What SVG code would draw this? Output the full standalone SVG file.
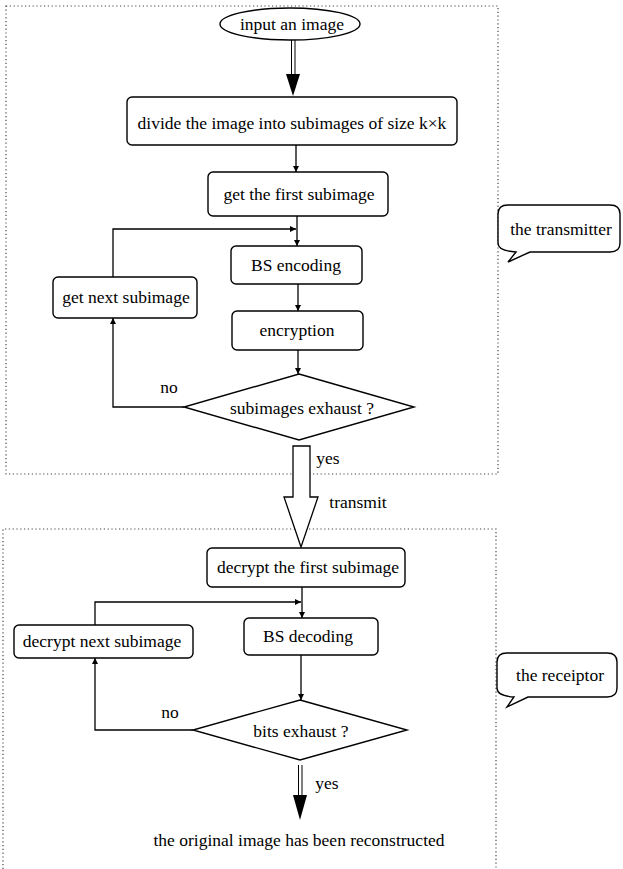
<svg xmlns="http://www.w3.org/2000/svg" width="623" height="869" viewBox="0 0 623 869">
<style>
.t{font-family:"Liberation Serif","Times New Roman",serif;font-size:17.5px;fill:#000;text-anchor:middle;dominant-baseline:central}
.b{fill:#fff;stroke:#000;stroke-width:1.4}
.c{fill:none;stroke:#000;stroke-width:1.3}
.d{fill:none;stroke:#444;stroke-width:1.2;stroke-dasharray:1.2 2.6}
</style>
<defs>
<marker id="ah" viewBox="0 0 10 10" refX="10" refY="5" markerWidth="6" markerHeight="6" markerUnits="userSpaceOnUse" orient="auto">
<path d="M0,0 L10,5 L0,10 Z" fill="#000"/>
</marker>
</defs>
<rect width="623" height="869" fill="#fff"/>
<g id="frames">
<rect class="d" x="6" y="6" width="492" height="468"/>
<path class="d" d="M3,869 L3,529 L496,529 L496,869"/>
</g>
<g id="connectors">
<line x1="291.5" y1="40" x2="291.5" y2="76" stroke="#000" stroke-width="1"/>
<line x1="295" y1="40" x2="295" y2="76" stroke="#000" stroke-width="1"/>
<path d="M286,74 L300,74 L293,96 Z" fill="#000"/>
<line class="c" x1="296" y1="145" x2="296" y2="172" stroke-width="1" marker-end="url(#ah)"/>
<line class="c" x1="297" y1="216" x2="297" y2="246" marker-end="url(#ah)"/>
<polyline class="c" points="113,277 113,229 296,229" marker-end="url(#ah)"/>
<line class="c" x1="298" y1="284" x2="298" y2="311" marker-end="url(#ah)"/>
<line class="c" x1="298" y1="350" x2="298" y2="374" marker-end="url(#ah)"/>
<polyline class="c" points="184,407 113,407 113,318" marker-end="url(#ah)"/>
<polygon points="293,446 310,446 310,497 318,497 301,547 284,497 293,497" fill="#fff" stroke="#000" stroke-width="1.3"/>
<line class="c" x1="302" y1="587" x2="302" y2="618" stroke-width="1" marker-end="url(#ah)"/>
<polyline class="c" points="95,625 95,602 301,602" stroke-width="1" marker-end="url(#ah)"/>
<line class="c" x1="301" y1="655" x2="301" y2="700" stroke-width="1" marker-end="url(#ah)"/>
<polyline class="c" points="193,730 95,730 95,658" marker-end="url(#ah)"/>
<line x1="298.5" y1="765" x2="298.5" y2="797" stroke="#000" stroke-width="1"/>
<line x1="302" y1="765" x2="302" y2="797" stroke="#000" stroke-width="1"/>
<path d="M293,795 L307,795 L300,820 Z" fill="#000"/>
<text class="t" x="169" y="387">no</text>
<text class="t" x="170" y="712">no</text>
<text class="t" x="328" y="458">yes</text>
<text class="t" x="358" y="502">transmit</text>
<text class="t" x="327" y="783">yes</text>
</g>
<g id="input">
<ellipse class="b" cx="290" cy="24" rx="70" ry="16"/>
<text class="t" x="292" y="24">input an image</text>
</g>
<g id="divide">
<rect class="b" x="127" y="97" width="330" height="48" rx="5"/>
<text class="t" x="292" y="123">divide the image into subimages of size k×k</text>
</g>
<g id="first">
<rect class="b" x="208" y="172" width="180" height="44" rx="5"/>
<text class="t" x="299" y="194">get the first subimage</text>
</g>
<g id="bsenc">
<rect class="b" x="231" y="246" width="131" height="38" rx="5"/>
<text class="t" x="296" y="265">BS encoding</text>
</g>
<g id="next">
<rect class="b" x="53" y="277" width="144" height="41" rx="5"/>
<text class="t" x="126" y="297">get next subimage</text>
</g>
<g id="enc">
<rect class="b" x="232" y="311" width="131" height="39" rx="5"/>
<text class="t" x="297" y="330">encryption</text>
</g>
<g id="exhaust1">
<polygon class="b" points="299,374 414,407 299,440 184,407"/>
<text class="t" x="302" y="408">subimages exhaust ?</text>
</g>
<g id="decfirst">
<rect class="b" x="207" y="548" width="198" height="39" rx="5"/>
<text class="t" x="308" y="567">decrypt the first subimage</text>
</g>
<g id="bsdec">
<rect class="b" x="244" y="618" width="134" height="37" rx="5"/>
<text class="t" x="308" y="636">BS decoding</text>
</g>
<g id="decnext">
<rect class="b" x="14" y="625" width="179" height="33" rx="5"/>
<text class="t" x="102" y="641">decrypt next subimage</text>
</g>
<g id="exhaust2">
<polygon class="b" points="300,700 407,730 300,760 193,730"/>
<text class="t" x="301" y="731">bits exhaust ?</text>
</g>
<g id="result">
<text class="t" x="299" y="840">the original image has been reconstructed</text>
</g>
<g id="transmitter">
<path class="b" d="M530,252 L610,252 Q620,252 620,243 L620,214 Q620,205 610,205 L508,205 Q498,205 498,214 L498,243 Q498,251 516,252 L508,262 Z"/>
<text class="t" x="561" y="229">the transmitter</text>
</g>
<g id="receiptor">
<path class="b" d="M528,697 L607,697 Q617,697 617,688 L617,662 Q617,653 607,653 L507,653 Q497,653 497,662 L497,688 Q497,696 514,697 L507,707 Z"/>
<text class="t" x="560" y="675">the receiptor</text>
</g>
</svg>
